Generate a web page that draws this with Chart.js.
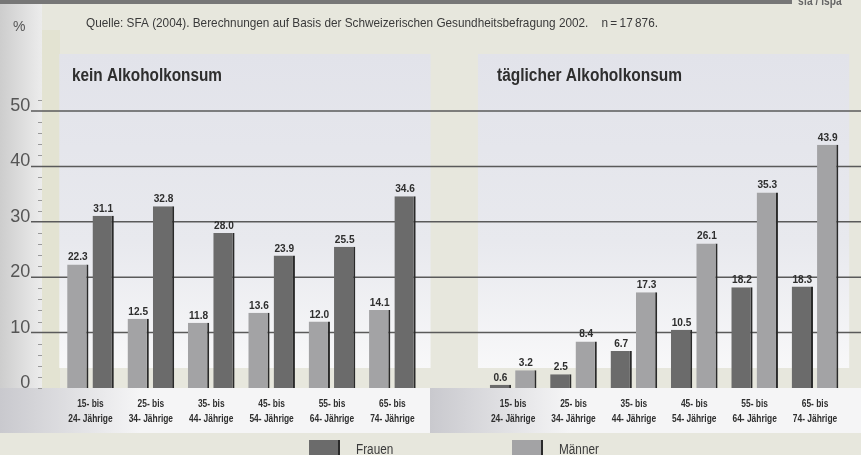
<!DOCTYPE html>
<html><head><meta charset="utf-8">
<script src="https://cdn.jsdelivr.net/npm/chart.js@4/dist/chart.umd.min.js"></script>
<style>html,body{margin:0;padding:0;background:#e7e7dd;}canvas{display:block}</style>
</head><body>
<canvas id="c" width="861" height="455"></canvas>
<script>
// ---- data ----
const ageGroups = [['15- bis','24- Jährige'],['25- bis','34- Jährige'],['35- bis','44- Jährige'],['45- bis','54- Jährige'],['55- bis','64- Jährige'],['65- bis','74- Jährige']];
const panelTitles = ['kein Alkoholkonsum','täglicher Alkoholkonsum'];
const seriesNames = ['Frauen','Männer'];
const keinFrauen = [31.1, 32.8, 28.0, 23.9, 25.5, 34.6];
const keinMaenner = [22.3, 12.5, 11.8, 13.6, 12.0, 14.1];
const taeglichFrauen = [0.6, 2.5, 6.7, 10.5, 18.2, 18.3];
const taeglichMaenner = [3.2, 8.4, 17.3, 26.1, 35.3, 43.9];
const yTicks = [0, 10, 20, 30, 40, 50];
const sourceText = 'Quelle: SFA (2004). Berechnungen auf Basis der Schweizerischen Gesundheitsbefragung 2002.    n\u2009=\u200917\u2009876.';
const unitLabel = '%';
const brand = 'sfa / ispa';

// ---- styling ----
const FAM = '"Liberation Sans", Arial, sans-serif';
const DARK = '#6b6b6b', LIGHT = '#a3a3a5', EDGE = '#2a2a2a';

const nulls = n => Array(n).fill(null);
const labels = [...ageGroups, '', ...ageGroups];
const edge = {top:0,left:0,bottom:0,right:2};

const datasets = [
  {label: seriesNames[1], data: [...keinMaenner, ...nulls(7)], backgroundColor: LIGHT},
  {label: seriesNames[0], data: [...keinFrauen, null, ...taeglichFrauen], backgroundColor: DARK},
  {label: seriesNames[1], data: [...nulls(7), ...taeglichMaenner], backgroundColor: LIGHT}
].map(d => Object.assign(d, {skipNull: true, borderWidth: edge, borderColor: EDGE, borderSkipped: false,
   categoryPercentage: 0.84, barPercentage: 0.84}));

function ctext(ctx, s, x, y, font, sx, align, color, fitW) {
  ctx.save();
  ctx.font = font; ctx.fillStyle = color; ctx.textAlign = align || 'left'; ctx.textBaseline = 'alphabetic';
  if (fitW) sx = fitW / ctx.measureText(s).width;
  ctx.translate(x, y); ctx.scale(sx, 1);
  ctx.fillText(s, 0, 0);
  ctx.restore();
}

const decor = {
  id: 'decor',
  beforeDraw(chart) {
    const ctx = chart.ctx, W = chart.width, H = chart.height;
    const xs = chart.scales.x;
    ctx.save();
    ctx.fillStyle = '#e7e7dd'; ctx.fillRect(0,0,W,H);
    let g = ctx.createLinearGradient(0,0,42,0);
    g.addColorStop(0,'#cdcdcd'); g.addColorStop(1,'#ececec');
    ctx.fillStyle = g; ctx.fillRect(0,0,42,388);
    ctx.fillStyle = '#e3e3d2'; ctx.fillRect(42,30,18,358);
    const half = (xs.getPixelForValue(1) - xs.getPixelForValue(0)) / 2;
    const panels = [[xs.getPixelForValue(0)-half-1, xs.getPixelForValue(5)+half+8],
                    [xs.getPixelForValue(7)-half-5, xs.getPixelForValue(12)+half+4]];
    panels.forEach(([a,b]) => {
      const pg = ctx.createLinearGradient(0,54,0,368);
      pg.addColorStop(0,'#e2e3ea'); pg.addColorStop(0.6,'#e8e9ee'); pg.addColorStop(1,'#f8f8f9');
      ctx.fillStyle = pg; ctx.fillRect(a,54,b-a,314);
    });
    [[0,430],[430,861]].forEach(([a,b]) => {
      const bg = ctx.createLinearGradient(a,0,a+140,0);
      bg.addColorStop(0,'#c9c9ce'); bg.addColorStop(1,'#f5f5f6');
      ctx.fillStyle = bg; ctx.fillRect(a,388,b-a,45);
    });
    ctx.fillStyle = '#777'; ctx.fillRect(0,0,792,4);
    ctx.restore();
    ctext(ctx, brand, 798, 5, 'bold 12px ' + FAM, 0.85, 'left', '#666');
    ctext(ctx, sourceText, 86, 27, '13.5px ' + FAM, 1, 'left', '#3a3a3a', 572);
    ctext(ctx, unitLabel, 13, 31, '14px ' + FAM, 1, 'left', '#555');
    ctext(ctx, panelTitles[0], 72, 81, 'bold 18px ' + FAM, 1, 'left', '#2e2e2e', 150);
    ctext(ctx, panelTitles[1], 497, 81, 'bold 18px ' + FAM, 1, 'left', '#2e2e2e', 185);
    chart.data.labels.forEach((lab, i) => {
      if (!Array.isArray(lab)) return;
      const x = xs.getPixelForValue(i);
      ctext(ctx, lab[0], x, 407, 'bold 10.5px ' + FAM, 0.8, 'center', '#2e2e2e');
      ctext(ctx, lab[1], x, 422, 'bold 10.5px ' + FAM, 0.8, 'center', '#2e2e2e');
    });
  },
  beforeDatasetsDraw(chart) {
    const ctx = chart.ctx, ys = chart.scales.y;
    ctx.save();
    ctx.strokeStyle = '#9a9a9a'; ctx.lineWidth = 1;
    for (let v = 0; v <= 52; v += 2) {
      if (v % 10 === 0 && v > 0) continue;
      const y = Math.round(ys.getPixelForValue(v)) + 0.5;
      ctx.beginPath(); ctx.moveTo(38,y); ctx.lineTo(42,y); ctx.stroke();
    }
    ctx.strokeStyle = '#5a5a5a'; ctx.lineWidth = 1.5;
    yTicks.filter(v => v > 0).forEach(v => {
      const y = ys.getPixelForValue(v);
      ctx.beginPath(); ctx.moveTo(31,y); ctx.lineTo(chart.width,y); ctx.stroke();
    });
    ctx.restore();
  },
  afterDatasetsDraw(chart) {
    const ctx = chart.ctx;
    chart.data.datasets.forEach((ds, i) => {
      chart.getDatasetMeta(i).data.forEach((el, j) => {
        const v = ds.data[j];
        if (v === null) return;
        ctext(ctx, v.toFixed(1), el.x, el.y - 4, 'bold 11.5px ' + FAM, 0.88, 'center', '#2e2e2e');
      });
    });
    const items = [[seriesNames[0], DARK, 309], [seriesNames[1], LIGHT, 512]];
    items.forEach(([name, col, x]) => {
      ctx.fillStyle = col; ctx.fillRect(x, 440, 29, 16);
      ctx.fillStyle = EDGE; ctx.fillRect(x+29, 440, 2, 16);
      ctext(ctx, name, x + 47, 454, '14px ' + FAM, 0.84, 'left', '#3a3a3a');
    });
  }
};

new Chart(document.getElementById('c'), {
  type: 'bar',
  data: {labels, datasets},
  options: {
    responsive: false, animation: false, devicePixelRatio: 1,
    layout: {padding: {top: 111, right: 15.8, bottom: 0, left: 0}},
    plugins: {legend: {display: false}, tooltip: {enabled: false}},
    scales: {
      x: {
        grid: {display: false, drawTicks: false}, border: {display: false},
        ticks: {display: false},
        afterFit(s) { s.height = 67; }
      },
      y: {
        min: 0, max: 50,
        grid: {display: false, drawTicks: false}, border: {display: false},
        ticks: {stepSize: 10, color: '#555', font: {family: FAM, size: 18}, padding: 30, labelOffset: -5},
        afterFit(s) { s.width = 60.3; }
      }
    }
  },
  plugins: [decor]
});
</script>
</body></html>
